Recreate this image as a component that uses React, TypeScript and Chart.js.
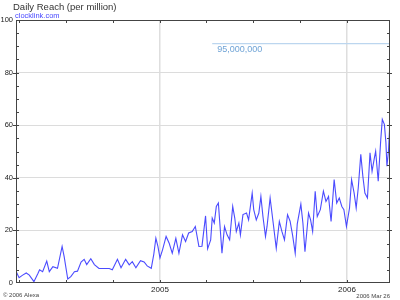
import React, { useEffect, useRef } from "react";
import { Chart, registerables } from "chart.js";

Chart.register(...registerables);

// ---- data (day 0 = 2004 Mar 26, day 730 = 2006 Mar 26) ----
const titleText = "Daily Reach (per million)";
const siteText = "clocklink.com";
const creditText = "\u00a9 2006 Alexa";
const dateText = "2006 Mar 26";
const annotationText = "95,000,000";

const yearDays = [281, 646];
const yearLabels = ["2005", "2006"];
const quarterDays = [6, 97, 189, 281, 371, 462, 554, 646];

const days = [
  0, 6, 13, 20, 26, 35, 43, 46, 52, 60, 65, 72, 81, 90, 94, 101, 107, 114, 120, 127,
  133, 138, 146, 153, 162, 172, 182, 188, 198, 205, 214, 221, 227, 234, 243, 250, 256, 264, 269, 273,
  277, 281, 286, 293, 299, 305, 312, 318, 325, 331, 337, 344, 350, 357, 363, 370, 374, 380, 383, 387,
  391, 395, 399, 402, 407, 412, 417, 423, 427, 430, 435, 438, 443, 450, 454, 461, 464, 469, 474, 478,
  482, 487, 490, 496, 502, 508, 514, 519, 524, 530, 535, 540, 545, 549, 556, 560, 564, 571, 575, 579,
  584, 588, 594, 600, 605, 610, 615, 621, 626, 631, 636, 640, 645, 651, 655, 660, 664, 668, 673, 677,
  681, 686, 691, 695, 699, 702, 707, 712, 715, 719, 722, 724, 727, 729, 730,
];
const reach = [
  4.5, 2, 3, 3.8, 3, 0.5, 3.7, 5, 4.3, 8.3, 4.3, 6.2, 5.6, 13.9, 10, 1.5, 2.4, 4.3, 4.5, 8,
  9, 7, 9.2, 7, 5.5, 5.5, 5.5, 5, 9, 5.8, 9, 6.9, 8.1, 5.8, 8.5, 8, 6.5, 5.6, 11, 17,
  13.9, 9.5, 12.6, 17.7, 15.1, 11.3, 17, 11.3, 18.3, 15.8, 19, 19.6, 21.5, 13.9, 14, 25.5, 13, 16.4, 24.7, 22.8,
  29.1, 30.4, 19.6, 11.3, 21.5, 18.3, 16.4, 29.1, 24.7, 19.6, 22.8, 18.3, 26, 26.6, 24, 34.2, 27.9, 24, 26.6, 32.9,
  25.3, 17.7, 21.5, 32.3, 22.8, 13.2, 23.4, 19.6, 16.4, 26, 23.5, 18, 11.3, 22.5, 30, 22.8, 11.9, 26.6, 24, 19.6,
  34.9, 25.3, 27.9, 34.9, 31, 32.9, 23.4, 39.3, 30.4, 32.3, 29.1, 27.9, 21.5, 28.5, 39.3, 34.2, 28.5, 36.1, 48.9, 40.6,
  34.2, 32.3, 49.5, 42.5, 47, 50.1, 38.7, 54.6, 62.2, 60.3, 53.4, 44.4, 50.1, 58, 95,
];

const annotationDays = [383, 730];
const annotationValue = 91;

const fontFamily = "'Liberation Sans', Arial, sans-serif";

const decorPlugin = {
  id: "decor",
  afterDatasetsDraw(chart: any) {
    const ctx = chart.ctx as CanvasRenderingContext2D;
    const { left, right, top, bottom } = chart.chartArea;
    const xs = chart.scales.x;
    const ys = chart.scales.y;
    ctx.save();

    // annotation label
    ctx.fillStyle = "#6fa3d6";
    ctx.font = `9px ${fontFamily}`;
    ctx.textBaseline = "top";
    ctx.textAlign = "left";
    ctx.fillText(annotationText, xs.getPixelForValue(annotationDays[0]) + 5, ys.getPixelForValue(annotationValue) + 1.5);

    // border
    ctx.strokeStyle = "#444";
    ctx.lineWidth = 1;
    ctx.strokeRect(left + 0.5, top + 0.5, right - left - 1, bottom - top - 1);

    // x ticks (inward, top & bottom)
    ctx.beginPath();
    for (const d of quarterDays) {
      const px = Math.round(xs.getPixelForValue(d)) + 0.5;
      ctx.moveTo(px, top);
      ctx.lineTo(px, top + 3);
      ctx.moveTo(px, bottom);
      ctx.lineTo(px, bottom - 3);
    }
    // y ticks every 5
    for (let v = 5; v < 100; v += 5) {
      const py = Math.round(ys.getPixelForValue(v)) + 0.5;
      const major = v % 20 === 0;
      ctx.moveTo(left + (major ? -3 : 0), py);
      ctx.lineTo(left + 3, py);
      ctx.moveTo(right - 3, py);
      ctx.lineTo(right + (major ? 2 : 0), py);
    }
    ctx.stroke();

    // header & footer texts
    ctx.textBaseline = "alphabetic";
    ctx.fillStyle = "#333";
    ctx.font = `9.5px ${fontFamily}`;
    ctx.fillText(titleText, 13, 9.5);
    ctx.fillStyle = "#4a4aff";
    ctx.font = `7.5px ${fontFamily}`;
    ctx.fillText(siteText, 15, 17.5);
    ctx.fillStyle = "#444";
    ctx.font = `6px ${fontFamily}`;
    ctx.fillText(creditText, 3, 297);
    ctx.textAlign = "right";
    ctx.fillText(dateText, 390, 298);
    ctx.restore();
  },
};

export default function App() {
  const ref = useRef<HTMLCanvasElement | null>(null);
  useEffect(() => {
    if (!ref.current) return;
    const chart = new Chart(ref.current, {
      type: "line",
      data: {
        datasets: [
          {
            data: annotationDays.map((d) => ({ x: d, y: annotationValue })),
            borderColor: "#bcd6ef",
            borderWidth: 1.2,
            pointRadius: 0,
            tension: 0,
          },
          {
            data: days.map((d, i) => ({ x: d, y: reach[i] })),
            borderColor: "rgba(55,55,255,0.9)",
            borderWidth: 1.1,
            pointRadius: 0,
            tension: 0,
          },
        ],
      },
      options: {
        responsive: false,
        animation: false,
        devicePixelRatio: 1,
        layout: { padding: { top: 20, right: 10, left: 0, bottom: 0 } },
        plugins: { legend: { display: false }, tooltip: { enabled: false }, title: { display: false } },
        scales: {
          x: {
            type: "linear",
            min: 0,
            max: 730,
            border: { display: false },
            grid: {
              color: "#dedede",
              lineWidth: 1.5,
              drawTicks: false,
            },
            afterBuildTicks: (scale: any) => {
              scale.ticks = yearDays.map((v) => ({ value: v }));
            },
            afterFit: (scale: any) => {
              scale.height = 17;
            },
            ticks: {
              autoSkip: false,
              maxRotation: 0,
              padding: 2,
              color: "#222",
              font: { family: fontFamily, size: 8 },
              callback: (v: any) => {
                const i = yearDays.indexOf(Number(v));
                return i >= 0 ? yearLabels[i] : "";
              },
            },
          },
          y: {
            min: 0,
            max: 100,
            border: { display: false },
            grid: {
              drawTicks: false,
              color: (c: any) => (c.tick && (c.tick.value === 0 || c.tick.value === 100) ? "rgba(0,0,0,0)" : "#dcdcdc"),
              lineWidth: 1,
            },
            afterFit: (scale: any) => {
              scale.width = 16;
            },
            ticks: {
              stepSize: 20,
              padding: 3,
              color: "#222",
              font: { family: fontFamily, size: 7.5 },
            },
          },
        },
      },
      plugins: [decorPlugin],
    } as any);
    return () => chart.destroy();
  }, []);
  return (
    <div style={{ position: "fixed", left: 0, top: 0, width: 400, height: 300, background: "#fff" }}>
      <canvas ref={ref} width={400} height={300} style={{ display: "block" }} />
    </div>
  );
}
